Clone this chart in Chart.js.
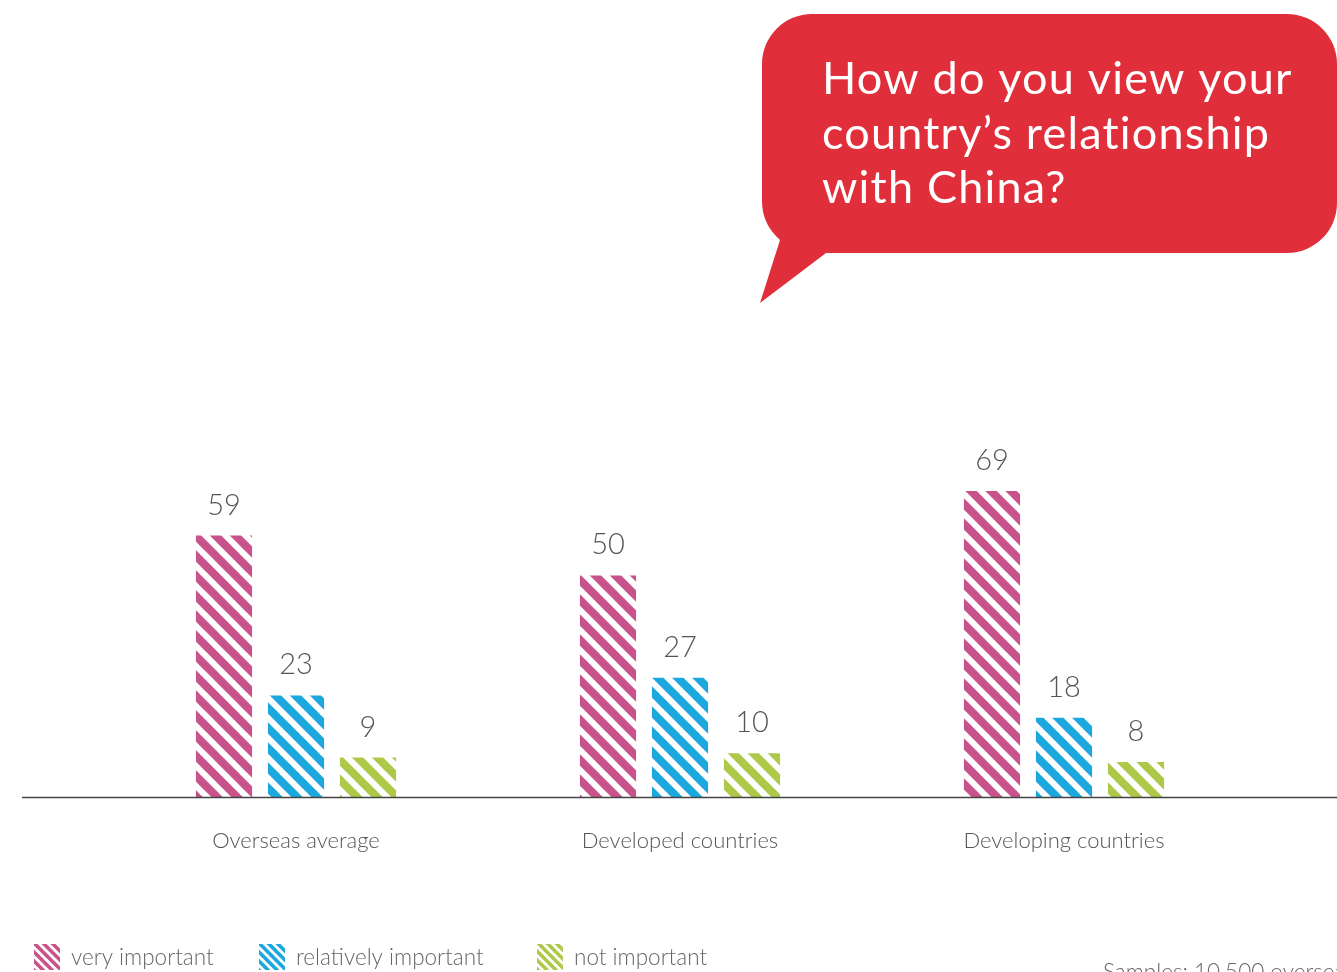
<!DOCTYPE html>
<html>
<head>
<meta charset="utf-8">
<script src="https://cdn.jsdelivr.net/npm/chart.js@4/dist/chart.umd.min.js"></script>
<style>
  html, body { margin: 0; padding: 0; background: #fff; }
  #wrap { position: relative; width: 1337px; height: 972px; overflow: hidden; }
</style>
</head>
<body>
<div id="wrap"><canvas id="relChart" width="1337" height="972"></canvas></div>
<script>
// survey answers, percent
const categories = ["Overseas average", "Developed countries", "Developing countries"];
const seriesNames = ["very important", "relatively important", "not important"];
const veryImportant = [59, 50, 69];
const relativelyImportant = [23, 27, 18];
const notImportant = [9, 10, 8];
const seriesColors = ["#c8528a", "#1ca8dd", "#aec84a"];

const question = ["How do you view your", "country\u2019s relationship", "with China?"];
const sampleNote = "Samples: 10,500 overseas";

const FONT = "Lato, 'Open Sans', sans-serif";

// diagonal "\" stripes on white
function stripes(color, size, width) {
  const c = document.createElement("canvas");
  c.width = c.height = size;
  const g = c.getContext("2d");
  g.strokeStyle = color;
  g.lineWidth = width;
  for (const o of [-size, 0, size]) {
    g.beginPath();
    g.moveTo(o - size / 2, -size / 2);
    g.lineTo(o + size * 1.5, size * 1.5);
    g.stroke();
  }
  return g.createPattern(c, "repeat");
}

const barPatterns = seriesColors.map(c => stripes(c, 20, 8));
const legendPatterns = seriesColors.map(c => stripes(c, 9, 3.6));

// speech bubble with the question
const bubblePlugin = {
  id: "bubble",
  beforeDraw(chart) {
    const ctx = chart.ctx;
    const x0 = 762, y0 = 14, x1 = 1337, y1 = 253, r = 50;
    ctx.save();
    ctx.fillStyle = "#e02f3a";
    ctx.beginPath();
    ctx.moveTo(x0 + r, y0);
    ctx.lineTo(x1 - r, y0);
    ctx.arcTo(x1, y0, x1, y0 + r, r);
    ctx.lineTo(x1, y1 - r);
    ctx.arcTo(x1, y1, x1 - r, y1, r);
    ctx.lineTo(826, y1);
    ctx.lineTo(760, 303);
    ctx.lineTo(780, 240);
    ctx.arcTo(x0, 222, x0, y1 - r, r);
    ctx.lineTo(x0, y0 + r);
    ctx.arcTo(x0, y0, x0 + r, y0, r);
    ctx.closePath();
    ctx.fill();
    ctx.fillStyle = "#ffffff";
    ctx.font = "400 45px " + FONT;
    ctx.letterSpacing = "1.2px";
    ctx.textBaseline = "alphabetic";
    question.forEach((line, i) => ctx.fillText(line, 822, 94 + i * 54.5));
    ctx.restore();
  }
};

// baseline, value labels, legend and footnote
const decorPlugin = {
  id: "decor",
  afterDatasetsDraw(chart) {
    const ctx = chart.ctx;
    const base = chart.scales.y.getPixelForValue(0);
    ctx.save();
    ctx.strokeStyle = "#444";
    ctx.lineWidth = 1.5;
    ctx.beginPath();
    ctx.moveTo(22, base);
    ctx.lineTo(chart.width, base);
    ctx.stroke();

    ctx.fillStyle = "#555";
    ctx.font = "300 29px " + FONT;
    ctx.textAlign = "center";
    ctx.textBaseline = "alphabetic";
    chart.data.datasets.forEach((ds, i) => {
      chart.getDatasetMeta(i).data.forEach((bar, j) => {
        ctx.fillText(String(ds.data[j]), bar.x, bar.y - 21);
      });
    });

    ctx.textAlign = "left";
    ctx.textBaseline = "middle";
    ctx.font = "300 22.5px " + FONT;
    const legendX = [34, 259, 537];
    seriesNames.forEach((name, i) => {
      ctx.fillStyle = legendPatterns[i];
      ctx.fillRect(legendX[i], 944, 26, 26);
      ctx.fillStyle = "#666";
      ctx.fillText(name, legendX[i] + 37, 958);
    });

    ctx.textBaseline = "alphabetic";
    ctx.fillStyle = "#666";
    ctx.fillText(sampleNote, 1103, 980);
    ctx.restore();
  }
};

new Chart(document.getElementById("relChart"), {
  type: "bar",
  data: {
    labels: categories,
    datasets: [
      { label: seriesNames[0], data: veryImportant, backgroundColor: barPatterns[0] },
      { label: seriesNames[1], data: relativelyImportant, backgroundColor: barPatterns[1] },
      { label: seriesNames[2], data: notImportant, backgroundColor: barPatterns[2] },
    ],
  },
  options: {
    responsive: false,
    animation: false,
    devicePixelRatio: 1,
    layout: { padding: { left: 104, right: 81, top: 420, bottom: 88 } },
    datasets: { bar: { categoryPercentage: 0.5625, barPercentage: 0.78, borderWidth: 0 } },
    scales: {
      x: {
        grid: { display: false, drawTicks: false },
        border: { display: false },
        ticks: { color: "#555", padding: 30, font: { family: FONT, size: 22, weight: "300" } },
      },
      y: { display: false, min: 0, max: 85 },
    },
    plugins: {
      legend: { display: false },
      tooltip: { enabled: false },
    },
  },
  plugins: [bubblePlugin, decorPlugin],
});
</script>
</body>
</html>
